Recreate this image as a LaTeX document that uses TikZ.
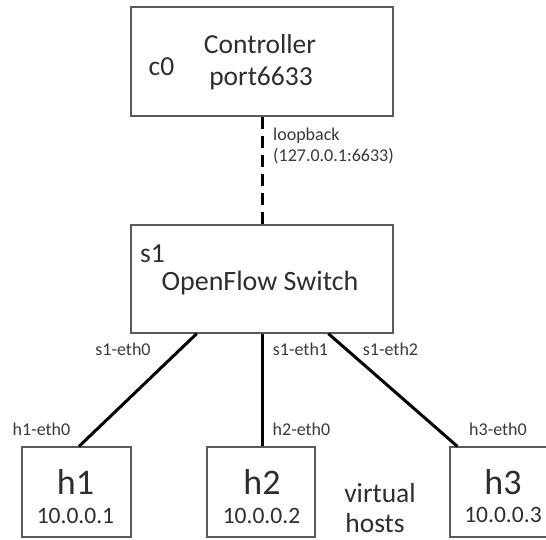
\documentclass[tikz,border=0pt]{standalone}
\usepackage{fontspec}
\setmainfont{Carlito}
\usetikzlibrary{calc}
\definecolor{txt}{HTML}{2E2E2E}
\definecolor{lbl}{HTML}{3A3A3A}
\definecolor{frame}{HTML}{5A5A5A}
\tikzset{
  box/.style={draw=frame, line width=1.2pt, fill=white, inner sep=0pt},
  big/.style={text=txt, font=\fontsize{27.5}{30}\selectfont, inner sep=0pt, anchor=base},
  host/.style={text=txt, font=\fontsize{36}{40}\selectfont, inner sep=0pt, anchor=base},
  addr/.style={text=txt, font=\fontsize{23.5}{26}\selectfont, inner sep=0pt, anchor=base},
  port/.style={text=lbl, font=\fontsize{18}{20}\selectfont, inner sep=0pt, anchor=base},
  wire/.style={line width=3pt, black},
  ctl/.style={line width=3pt, black, dash pattern=on 12pt off 7pt},
}
\begin{document}
\begin{tikzpicture}[x=1pt, y=-1pt]
\clip (0,0) rectangle (546,539);
\fill[white] (0,0) rectangle (546,539);

% controller and switch
\node[box, minimum width=262pt, minimum height=109pt] (ctrl) at (262,61.5) {};
\node[box, minimum width=262pt, minimum height=108pt] (sw) at (262,279) {};

% hosts
\node[box, minimum width=109pt, minimum height=90pt] (h1) at (76.5,492) {};
\node[box, minimum width=108pt, minimum height=90pt] (h2) at (261,492) {};
\node[box, minimum width=106pt, minimum height=90pt] (h3) at (503,492) {};

% links
\draw[ctl] (ctrl.south) -- (sw.north);
\draw[wire] ($(sw.south west)!0.252!(sw.south east)$) -- ($(h1.north)+(2.5,0)$);
\draw[wire] (sw.south) -- (sw.south |- h2.north);
\draw[wire] ($(sw.south west)!0.752!(sw.south east)$) -- ($(h3.north west)+(8,0)$);

% box texts
\node[big] (c0) at (161.5,75) {c0};
\node[big] (ctrlname) at (260,53) {Controller};
\node[big] (ctrlport) at (261,85) {port6633};
\node[big] (s1) at (152.5,262) {s1};
\node[font=\fontsize{28}{30}\selectfont, text=txt, inner sep=0pt, anchor=base] (swname) at (260,290) {OpenFlow Switch};
\node[host] (h1n) at (75.5,494) {h1};
\node[addr] (h1a) at (75.5,523) {10.0.0.1};
\node[host] (h2n) at (262,494) {h2};
\node[addr] (h2a) at (261.5,523) {10.0.0.2};
\node[host] (h3n) at (503,494) {h3};
\node[addr] (h3a) at (503,522) {10.0.0.3};
\node[big] (virt) at (380,502) {virtual};
\node[big] (hosts) at (375,532) {hosts};

% link labels
\node[port, anchor=base west] (lb) at (273,140) {loopback};
\node[port, anchor=base west] (lbaddr) at (273,161) {(127.0.0.1:6633)};
\node[port] (e0) at (123,355) {s1-eth0};
\node[port] (e1) at (300.5,355) {s1-eth1};
\node[port] (e2) at (390.5,355) {s1-eth2};
\node[port] (h1e) at (41.5,435) {h1-eth0};
\node[port] (h2e) at (301.5,435) {h2-eth0};
\node[port] (h3e) at (498,435) {h3-eth0};
\end{tikzpicture}
\end{document}
